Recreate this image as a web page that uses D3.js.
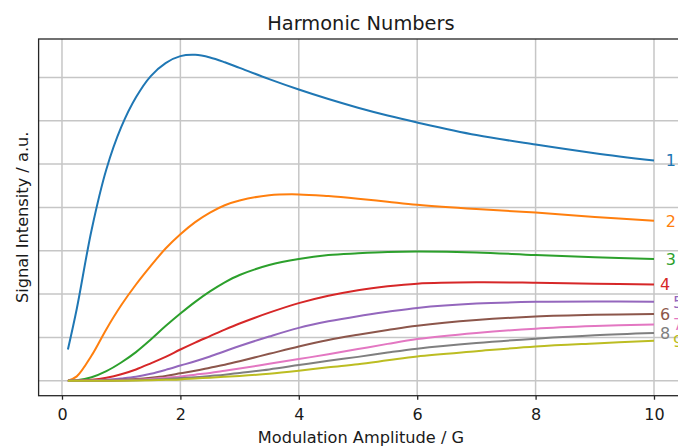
<html>
	<head>
		<script src="https://cdn.jsdelivr.net/npm/d3@7" type="text/javascript"></script>
		<style>
			body { margin: 0; background: #fff; }
			text { font-family: "DejaVu Sans", sans-serif; }
		</style>
	</head>
<body>
	<div id="chart"></div>
<script>
	var xs = [0.1, 0.25, 0.5, 0.75, 1, 1.25, 1.5, 1.75, 2, 2.25, 2.5, 2.75, 3, 3.5, 4, 4.5, 5, 5.5, 6, 7, 8, 9, 10];

	var h1 = [0.72, 1.66, 3.48, 4.88, 5.85, 6.54, 7.03, 7.33, 7.49, 7.52, 7.46, 7.35, 7.22, 6.96, 6.72, 6.5, 6.3, 6.12, 5.96, 5.67, 5.45, 5.25, 5.08];
	var h2 = [0, 0.1, 0.58, 1.19, 1.74, 2.22, 2.65, 3.05, 3.38, 3.66, 3.88, 4.05, 4.16, 4.28, 4.3, 4.26, 4.2, 4.13, 4.06, 3.96, 3.88, 3.78, 3.69];
	var h3 = [0, 0.01, 0.08, 0.22, 0.42, 0.66, 0.95, 1.26, 1.55, 1.82, 2.06, 2.27, 2.44, 2.67, 2.81, 2.9, 2.94, 2.97, 2.98, 2.96, 2.9, 2.85, 2.81];
	var h4 = [0, 0, 0.02, 0.07, 0.15, 0.26, 0.4, 0.55, 0.72, 0.88, 1.03, 1.18, 1.32, 1.57, 1.79, 1.96, 2.09, 2.18, 2.24, 2.27, 2.26, 2.24, 2.22];
	var h5 = [0, 0, 0.005, 0.02, 0.05, 0.09, 0.16, 0.25, 0.35, 0.45, 0.56, 0.68, 0.8, 1.02, 1.22, 1.37, 1.49, 1.59, 1.68, 1.78, 1.82, 1.83, 1.82];
	var h6 = [0, 0, 0, 0.01, 0.02, 0.04, 0.07, 0.11, 0.17, 0.23, 0.3, 0.37, 0.45, 0.62, 0.79, 0.94, 1.06, 1.17, 1.27, 1.4, 1.48, 1.52, 1.54];
	var h7 = [0, 0, 0, 0, 0.01, 0.02, 0.04, 0.07, 0.1, 0.14, 0.18, 0.23, 0.28, 0.39, 0.5, 0.61, 0.73, 0.85, 0.96, 1.1, 1.2, 1.26, 1.3];
	var h8 = [0, 0, 0, 0, 0.005, 0.01, 0.02, 0.04, 0.06, 0.08, 0.11, 0.14, 0.18, 0.26, 0.36, 0.46, 0.55, 0.65, 0.74, 0.87, 0.97, 1.05, 1.1];
	var h9 = [0, 0, 0, 0, 0, 0.005, 0.01, 0.02, 0.03, 0.05, 0.07, 0.09, 0.11, 0.16, 0.23, 0.31, 0.38, 0.47, 0.56, 0.68, 0.79, 0.86, 0.92];

	var harmonics = ["1", "2", "3", "4", "5", "6", "7", "8", "9"];
	var series = [h1, h2, h3, h4, h5, h6, h7, h8, h9];
	// x (in G) where each end label starts
	var labelX = [10.2, 10.2, 10.2, 10.1, 10.32, 10.1, 10.32, 10.1, 10.32];

	var xTicks = [0, 2, 4, 6, 8, 10];
	var yGrid = [0, 1, 2, 3, 4, 5, 6, 7];

	var colors = ["#1f77b4", "#ff7f0e", "#2ca02c", "#d62728", "#9467bd", "#8c564b", "#e377c2", "#7f7f7f", "#bcbd22"];

	var width = 678, height = 447;
	var plot = {left: 38.6, right: 683.3, top: 39, bottom: 395.7};

	var x = d3.scaleLinear().domain([-0.395, 10.495]).range([plot.left, plot.right]);
	var y = d3.scaleLinear().domain([-0.346, 7.886]).range([plot.bottom, plot.top]);

	var svg = d3.select("#chart")
		.append("svg")
		.attr("width", width)
		.attr("height", height);

	// grid
	svg.append("g")
		.selectAll("line")
		.data(xTicks)
		.enter().append("line")
		.attr("x1", function(d) { return x(d); })
		.attr("x2", function(d) { return x(d); })
		.attr("y1", plot.top)
		.attr("y2", plot.bottom)
		.attr("stroke", "#c6c6c6")
		.attr("stroke-width", 1.5);

	svg.append("g")
		.selectAll("line")
		.data(yGrid)
		.enter().append("line")
		.attr("x1", plot.left)
		.attr("x2", plot.right)
		.attr("y1", function(d) { return y(d); })
		.attr("y2", function(d) { return y(d); })
		.attr("stroke", "#c6c6c6")
		.attr("stroke-width", 1.5);

	// curves
	var line = d3.line()
		.x(function(d) { return x(d[0]); })
		.y(function(d) { return y(d[1]); })
		.curve(d3.curveCatmullRom.alpha(0.5));

	series.forEach(function(vals, i) {
		var pts = xs.map(function(v, j) { return [v, vals[j]]; });
		svg.append("path")
			.datum(pts)
			.attr("d", line)
			.attr("fill", "none")
			.attr("stroke", colors[i])
			.attr("stroke-width", 2);

		svg.append("text")
			.attr("x", x(labelX[i]))
			.attr("y", y(vals[vals.length - 1]))
			.attr("dy", "0.36em")
			.attr("fill", colors[i])
			.attr("font-size", "16px")
			.text(harmonics[i]);
	});

	// spines
	svg.append("rect")
		.attr("x", plot.left)
		.attr("y", plot.top)
		.attr("width", plot.right - plot.left)
		.attr("height", plot.bottom - plot.top)
		.attr("fill", "none")
		.attr("stroke", "#262626")
		.attr("stroke-width", 1.3);

	var xAxis = d3.axisBottom(x).tickValues(xTicks).tickSize(4).tickPadding(9);
	var gx = svg.append("g")
		.attr("transform", "translate(0," + plot.bottom + ")")
		.call(xAxis);
	gx.select(".domain").remove();
	gx.selectAll(".tick line").attr("stroke", "#262626").attr("stroke-width", 1.3);
	gx.selectAll(".tick text")
		.attr("fill", "#1a1a1a")
		.attr("font-size", "16px")
		.attr("font-family", "DejaVu Sans, sans-serif");

	// title and labels
	svg.append("text")
		.attr("x", (plot.left + plot.right) / 2)
		.attr("y", 30)
		.attr("text-anchor", "middle")
		.attr("font-size", "19.4px")
		.attr("fill", "#1a1a1a")
		.text("Harmonic Numbers");

	svg.append("text")
		.attr("x", (plot.left + plot.right) / 2)
		.attr("y", 443)
		.attr("text-anchor", "middle")
		.attr("font-size", "16.2px")
		.attr("fill", "#1a1a1a")
		.text("Modulation Amplitude / G");

	svg.append("text")
		.attr("transform", "translate(28," + ((plot.top + plot.bottom) / 2) + ") rotate(-90)")
		.attr("text-anchor", "middle")
		.attr("font-size", "16.2px")
		.attr("fill", "#1a1a1a")
		.text("Signal Intensity / a.u.");
</script>
</body>
</html>
